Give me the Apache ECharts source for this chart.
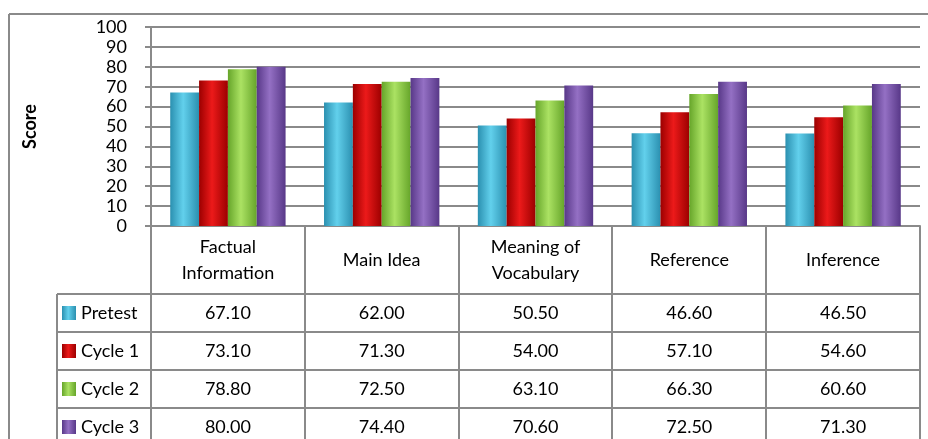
<!DOCTYPE html>
<html><head><meta charset="utf-8">
<script src="https://cdn.jsdelivr.net/npm/echarts@6/dist/echarts.min.js"></script>
<style>html,body{margin:0;padding:0;background:#fff}#c{width:928px;height:439px}</style>
</head><body><div id="c"></div>
<script>
// ---- data ----
const categories = ["Factual\nInformation", "Main Idea", "Meaning of\nVocabulary", "Reference", "Inference"];
const seriesNames = ["Pretest", "Cycle 1", "Cycle 2", "Cycle 3"];
const pretest = [67.10, 62.00, 50.50, 46.60, 46.50];
const cycle1  = [73.10, 71.30, 54.00, 57.10, 54.60];
const cycle2  = [78.80, 72.50, 63.10, 66.30, 60.60];
const cycle3  = [80.00, 74.40, 70.60, 72.50, 71.30];
const yMin = 0, yMax = 100, yInterval = 10;
const yTitle = "Score";

// ---- style ----
const FONT = "Lato, 'Liberation Sans', sans-serif";
const palette = [
  ["#2b90b0", "#62d0ec"],
  ["#9c0000", "#ec1a1a"],
  ["#66a52a", "#abe263"],
  ["#583888", "#9470c4"]
];
const grad = (p) => new echarts.graphic.LinearGradient(0, 0, 1, 0, [
  {offset: 0, color: p[0]}, {offset: 0.45, color: p[1]}, {offset: 1, color: p[0]}
]);
const allSeries = [pretest, cycle1, cycle2, cycle3];
const LINE = "#8a8a8a";

const chart = echarts.init(document.getElementById('c'), null, {renderer: 'canvas'});
const gridLeft = 151, gridRight = 920, gridTop = 27, gridBottom = 226;

chart.setOption({
  animation: false,
  backgroundColor: '#fff',
  textStyle: {fontFamily: FONT},
  grid: {left: gridLeft, right: 928 - gridRight, top: gridTop, bottom: 439 - gridBottom},
  legend: {
    orient: 'vertical', left: 62, top: 304, height: 200, padding: 0,
    icon: 'rect', itemWidth: 14, itemHeight: 14, itemGap: 20,
    textStyle: {fontSize: 18, color: '#000', fontFamily: FONT},
    selectedMode: false,
    data: seriesNames
  },
  xAxis: {
    type: 'category', data: categories,
    axisLine: {show: true, lineStyle: {color: LINE, width: 2}},
    axisTick: {show: false},
    axisLabel: {fontSize: 18, color: '#000', lineHeight: 26, margin: 34, verticalAlign: 'middle', fontFamily: FONT, interval: 0}
  },
  yAxis: {
    type: 'value', min: yMin, max: yMax, interval: yInterval,
    name: yTitle, nameLocation: 'middle', nameGap: 112, nameRotate: 90,
    nameTextStyle: {fontSize: 18, fontWeight: 'bold', color: '#000', fontFamily: FONT},
    axisLine: {show: true, lineStyle: {color: LINE, width: 2}},
    axisTick: {show: true, length: 6, lineStyle: {color: LINE, width: 2}},
    axisLabel: {fontSize: 18, color: '#000', margin: 24, fontFamily: FONT},
    splitLine: {lineStyle: {color: LINE, width: 2}}
  },
  series: allSeries.map((d, i) => ({
    name: seriesNames[i], type: 'bar', data: d,
    barGap: '0%', barCategoryGap: '25%',
    itemStyle: {color: grad(palette[i])}
  }))
});

// ---- data table drawn below the axis ----
const n = categories.length;
const colW = (gridRight - gridLeft) / n;
const rowTop = 294, rowH = 38;
const g = [];
const ln = (x1, y1, x2, y2) => ({type: 'line', silent: true, shape: {x1, y1, x2, y2}, style: {stroke: LINE, lineWidth: 2}});
// outer frame
g.push(ln(9, 14, 928, 14));
g.push(ln(9, 14, 9, 439));
// column lines
for (let k = 0; k <= n; k++) {
  const x = Math.round(gridLeft + k * colW);
  g.push(ln(x, gridBottom, x, 439));
}
g.push(ln(57, rowTop, 57, 439));
for (let r = 0; r < 4; r++) {
  const y = rowTop + r * rowH;
  g.push(ln(57, y, gridRight, y));
}
// values
for (let r = 0; r < allSeries.length; r++) {
  for (let c = 0; c < n; c++) {
    const x = chart.convertToPixel({xAxisIndex: 0}, c);
    g.push({type: 'text', silent: true, x: x, y: rowTop + r * rowH + rowH / 2,
      style: {text: allSeries[r][c].toFixed(2), fontSize: 18, fontFamily: FONT, fill: '#000', align: 'center', verticalAlign: 'middle'}});
  }
}
chart.setOption({graphic: g});
</script>
</body></html>
